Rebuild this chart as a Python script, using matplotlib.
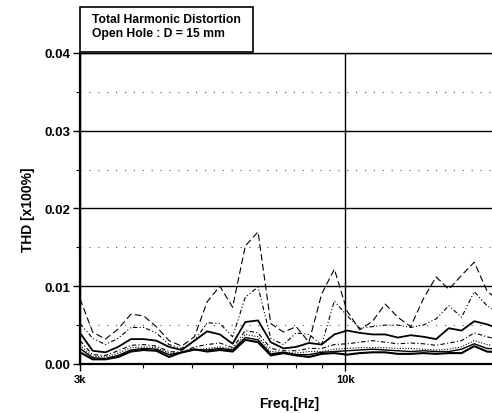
import numpy as np
import matplotlib.pyplot as plt
from matplotlib.ticker import FixedLocator, NullFormatter, MultipleLocator, FormatStrFormatter
from matplotlib.patches import Rectangle

plt.rcParams['font.family'] = ['Liberation Sans', 'DejaVu Sans']

# 1/12-octave frequency points [Hz]
freq = [3000, 3178, 3367, 3568, 3780, 4004, 4243, 4495, 4762, 5045,
        5345, 5663, 6000, 6357, 6735, 7135, 7560, 8009, 8485, 8990,
        9524, 10091, 10691, 11327, 12000, 12714, 13470, 14271, 15119, 16018,
        16971, 17980, 19049, 20182]

thd_1 = [0.0084, 0.0041, 0.0032, 0.0045, 0.0064, 0.0062, 0.0048, 0.0030, 0.0023, 0.0035,
         0.0080, 0.0100, 0.0073, 0.0152, 0.0170, 0.0052, 0.0041, 0.0048, 0.0028, 0.0090,
         0.0122, 0.0068, 0.0044, 0.0055, 0.0077, 0.0060, 0.0048, 0.0084, 0.0112, 0.0096,
         0.0114, 0.0131, 0.0094, 0.0080]
thd_2 = [0.0052, 0.0033, 0.0025, 0.0033, 0.0047, 0.0047, 0.0040, 0.0025, 0.0020, 0.0030,
         0.0053, 0.0052, 0.0035, 0.0086, 0.0099, 0.0033, 0.0025, 0.0040, 0.0038, 0.0025,
         0.0081, 0.0062, 0.0046, 0.0048, 0.0050, 0.0050, 0.0047, 0.0050, 0.0058, 0.0075,
         0.0060, 0.0093, 0.0075, 0.0065]
thd_3 = [0.0040, 0.0017, 0.0015, 0.0022, 0.0032, 0.0032, 0.0030, 0.0022, 0.0018, 0.0030,
         0.0042, 0.0038, 0.0026, 0.0054, 0.0056, 0.0028, 0.0020, 0.0022, 0.0027, 0.0025,
         0.0038, 0.0043, 0.0040, 0.0038, 0.0038, 0.0034, 0.0037, 0.0035, 0.0032, 0.0046,
         0.0043, 0.0055, 0.0051, 0.0045]
thd_4 = [0.0030, 0.0012, 0.0011, 0.0017, 0.0024, 0.0025, 0.0023, 0.0016, 0.0015, 0.0022,
         0.0025, 0.0027, 0.0021, 0.0043, 0.0040, 0.0020, 0.0017, 0.0017, 0.0020, 0.0020,
         0.0025, 0.0026, 0.0028, 0.0030, 0.0028, 0.0026, 0.0027, 0.0026, 0.0024, 0.0027,
         0.0030, 0.0040, 0.0035, 0.0031]
thd_5 = [0.0024, 0.0010, 0.0009, 0.0014, 0.0021, 0.0022, 0.0021, 0.0014, 0.0014, 0.0018,
         0.0020, 0.0022, 0.0019, 0.0038, 0.0035, 0.0016, 0.0015, 0.0014, 0.0016, 0.0016,
         0.0019, 0.0020, 0.0021, 0.0021, 0.0021, 0.0020, 0.0020, 0.0019, 0.0018, 0.0019,
         0.0022, 0.0030, 0.0025, 0.0023]
thd_6 = [0.0020, 0.0008, 0.0007, 0.0011, 0.0018, 0.0020, 0.0019, 0.0012, 0.0015, 0.0018,
         0.0018, 0.0020, 0.0018, 0.0034, 0.0031, 0.0013, 0.0015, 0.0012, 0.0012, 0.0015,
         0.0016, 0.0017, 0.0018, 0.0019, 0.0018, 0.0017, 0.0016, 0.0017, 0.0016, 0.0016,
         0.0019, 0.0026, 0.0020, 0.0019]
thd_7 = [0.0015, 0.0006, 0.0006, 0.0009, 0.0016, 0.0018, 0.0017, 0.0009, 0.0015, 0.0019,
         0.0016, 0.0018, 0.0016, 0.0031, 0.0028, 0.0011, 0.0014, 0.0011, 0.0009, 0.0013,
         0.0014, 0.0012, 0.0014, 0.0015, 0.0015, 0.0013, 0.0013, 0.0014, 0.0013, 0.0014,
         0.0014, 0.0023, 0.0016, 0.0015]

fig = plt.figure(figsize=(4.92, 4.14), dpi=100)
ax = fig.add_axes([0.1626, 0.1184, 0.849, 0.7512])

# curves, from the highest to the lowest
ax.plot(freq, thd_1, color='black', lw=0.8, ls=(0, (6, 3)))
ax.plot(freq, thd_2, color='black', lw=0.8, ls=(0, (4, 2, 1, 2, 1, 2)))
ax.plot(freq, thd_3, color='black', lw=1.3, ls='-')
ax.plot(freq, thd_4, color='black', lw=0.8, ls=(0, (4, 2, 1, 2)))
ax.plot(freq, thd_5, color='black', lw=0.8, ls=(0, (1, 1.5)))
ax.plot(freq, thd_6, color='black', lw=1.0, ls='-')
ax.plot(freq, thd_7, color='black', lw=1.5, ls='-')

ax.set_xscale('log')
ax.set_xlim(3000, 20000)
ax.set_ylim(0, 0.04)

ax.xaxis.set_major_locator(FixedLocator([3000, 10000]))
ax.xaxis.set_minor_locator(FixedLocator([4000, 5000, 6000, 7000, 8000, 9000, 20000]))
ax.xaxis.set_minor_formatter(NullFormatter())
ax.set_xticklabels(['3k', '10k'])
ax.yaxis.set_major_locator(MultipleLocator(0.01))
ax.yaxis.set_minor_locator(MultipleLocator(0.005))
ax.yaxis.set_major_formatter(FormatStrFormatter('%.2f'))

ax.grid(which='major', color='black', lw=1.0)
ax.grid(which='minor', axis='y', color='#555555', lw=0.8, ls=(0, (1, 7)))

ax.tick_params(which='major', direction='out', length=5, width=1, pad=2)
ax.tick_params(axis='y', which='major', labelsize=9.5)
ax.tick_params(axis='x', which='major', labelsize=8)
ax.tick_params(which='minor', direction='out', length=3, width=0.8)
for lab in ax.get_xticklabels() + ax.get_yticklabels():
    lab.set_fontweight('bold')

ax.spines['left'].set_linewidth(1.6)
ax.spines['bottom'].set_linewidth(1.6)
ax.spines['top'].set_linewidth(1.0)
ax.spines['right'].set_visible(False)

ax.set_xlabel('Freq.[Hz]', fontsize=10, fontweight='bold', labelpad=9)
ax.set_ylabel('THD [x100%]', fontsize=10, fontweight='bold', labelpad=7)

# title box above the plot
fig.patches.append(Rectangle((0.1626, 0.872), 0.3516, 0.1087, transform=fig.transFigure,
                             facecolor='white', edgecolor='black', lw=1.2, zorder=3))
fig.text(0.187, 0.966, 'Total Harmonic Distortion\nOpen Hole : D = 15 mm',
         fontsize=8.7, fontweight='bold', ha='left', va='top', linespacing=1.25, zorder=4)

fig.savefig('out.png', dpi=100)
